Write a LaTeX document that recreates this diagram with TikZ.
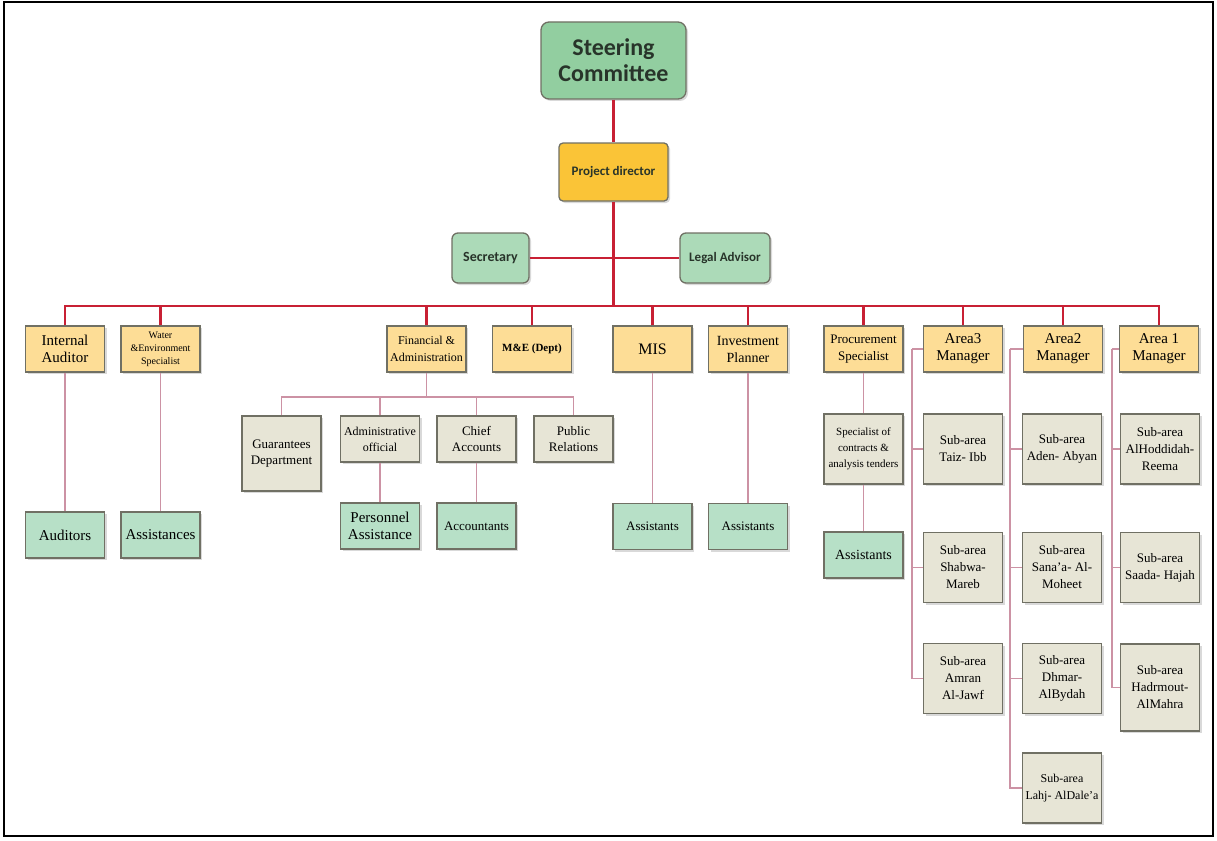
\documentclass[tikz,border=0pt]{standalone}
\usepackage{fontspec}
\setmainfont{Liberation Serif}
\newfontfamily\headfont{Carlito}
\usetikzlibrary{shadows}

\definecolor{scgreen}{RGB}{146,206,160}
\definecolor{aidegreen}{RGB}{172,218,184}
\definecolor{pdyellow}{RGB}{250,196,55}
\definecolor{unitfill}{RGB}{253,221,150}
\definecolor{subfill}{RGB}{231,229,214}
\definecolor{stafffill}{RGB}{183,224,199}
\definecolor{boxline}{RGB}{112,112,100}
\definecolor{darktext}{RGB}{40,52,42}
\definecolor{redline}{RGB}{200,32,52}
\definecolor{pinkline}{RGB}{204,146,164}
\newcommand\fsz[2]{\fontsize{#1}{#2}\selectfont}

\begin{document}
\begin{tikzpicture}[x=1pt,y=-1pt,
    box/.style={draw=boxline,line width=1.3pt,minimum width=79pt,minimum height=46pt,
      inner sep=2pt,align=center,font=\fsz{15}{17},
      drop shadow={shadow xshift=2pt,shadow yshift=-2pt,opacity=.3}},
    top/.style={box,rounded corners=8pt,fill=scgreen,minimum width=145pt,minimum height=77pt,
      text=darktext,font=\headfont\bfseries\fsz{24}{26}},
    director/.style={box,rounded corners=4pt,fill=pdyellow,minimum width=109pt,minimum height=58pt,
      text=darktext,font=\headfont\bfseries\fsz{13}{15}},
    aide/.style={box,rounded corners=6pt,fill=aidegreen,minimum width=77pt,minimum height=50pt,
      text=darktext,font=\headfont\bfseries\fsz{14}{16}},
    unit/.style={box,fill=unitfill},
    subunit/.style={box,fill=subfill,font=\fsz{13}{16}},
    staff/.style={box,fill=stafffill},
    area/.style={subunit,minimum height=70pt,font=\fsz{13}{17}},
    mainline/.style={draw=redline,line width=2.6pt},
    subline/.style={draw=pinkline,line width=1.3pt}]
  \useasboundingbox (0,0) rectangle (1217,840);
  \draw[line width=2pt] (4,2) rectangle (1213,836);

  % head
  \node[top] (SC) at (613.5,60.5) {Steering\\Committee};
  \node[director] (PD) at (613.5,172) {Project director};
  \node[aide] (Sec) at (490.5,258) {Secretary};
  \node[aide,minimum width=90pt,font=\headfont\bfseries\fsz{13}{15}] (LA) at (725,258) {Legal Advisor};

  % units
  \node[unit] (IA) at (65,349) {Internal\\Auditor};
  \node[unit,font=\fsz{10}{13}] (WE) at (160.5,349) {Water\\\&Environment\\Specialist};
  \node[unit,font=\fsz{12}{17}] (FA) at (426.5,349) {Financial \&\\Administration};
  \node[unit,font=\bfseries\fsz{11}{13}] (ME) at (532,349) {M\&E (Dept)};
  \node[unit,font=\fsz{16}{18}] (MIS) at (652.5,349) {MIS};
  \node[unit,font=\fsz{14}{17}] (IP) at (748,349) {Investment\\Planner};
  \node[unit,font=\fsz{13}{17}] (PS) at (863.5,349) {Procurement\\Specialist};
  \node[unit] (A3) at (963,349) {Area3\\Manager};
  \node[unit] (A2) at (1063,349) {Area2\\Manager};
  \node[unit] (A1) at (1159,349) {Area 1\\Manager};

  % finance
  \node[subunit,minimum height=75pt] (GD) at (281.5,453.5) {Guarantees\\Department};
  \node[subunit,font=\fsz{12}{16}] (AO) at (380,439) {Administrative\\official};
  \node[subunit] (CA) at (476.5,439) {Chief\\Accounts};
  \node[subunit] (PR) at (573.5,439) {Public\\Relations};
  \node[staff] (PA) at (380,526) {Personnel\\Assistance};
  \node[staff,font=\fsz{13}{15}] (Acc) at (476.5,526) {Accountants};

  % staff
  \node[staff] (Aud) at (65,535) {Auditors};
  \node[staff] (Ass) at (160.5,535) {Assistances};
  \node[staff,font=\fsz{13}{15}] (MISa) at (652.5,526.5) {Assistants};
  \node[staff,font=\fsz{13}{15}] (IPa) at (748,526.5) {Assistants};
  \node[subunit,minimum height=70pt,font=\fsz{11}{16}] (Spec) at (863.5,449) {Specialist of\\contracts \&\\analysis tenders};
  \node[staff,font=\fsz{14}{16}] (PSa) at (863.5,555) {Assistants};

  % areas
  \node[area] (Ta) at (963,449) {Sub-area\\Taiz- Ibb};
  \node[area] (Sh) at (963,567.5) {Sub-area\\Shabwa-\\Mareb};
  \node[area] (Am) at (963,678.5) {Sub-area\\Amran\\Al-Jawf};
  \node[area] (Ad) at (1062,449) {Sub-area\\Aden- Abyan};
  \node[area] (Sa) at (1062,567.5) {Sub-area\\Sana'a- Al-\\Moheet};
  \node[area] (Dh) at (1062,678.5) {Sub-area\\Dhmar-\\AlBydah};
  \node[area,font=\fsz{12}{17}] (La) at (1062,788) {Sub-area\\Lahj- AlDale'a};
  \node[area] (Ho) at (1160,449) {Sub-area\\AlHoddidah-\\Reema};
  \node[area] (Sd) at (1160,567.5) {Sub-area\\Saada- Hajah};
  \node[area,minimum height=87pt] (Hd) at (1160,687.5) {Sub-area\\Hadrmout-\\AlMahra};

  % main lines
  \coordinate (bus) at (613.5,306);
  \coordinate (fin) at (426.5,397);
  \draw[mainline] (SC) -- (PD) (Sec) -- (LA) (PD) -- (bus);
  \draw[mainline] (IA.north) |- (bus) -| (A1.north);
  \foreach \u in {WE,FA,ME,MIS,IP,PS,A3,A2}
    \draw[mainline] (\u.north) -- (\u.north |- bus);

  % sub lines
  \draw[subline] (IA) -- (Aud) (WE) -- (Ass) (AO) -- (PA) (CA) -- (Acc)
    (MIS) -- (MISa) (IP) -- (IPa) (PS) -- (Spec) (Spec) -- (PSa);
  \draw[subline] (FA) -- (fin) (GD.north) |- (fin) -| (PR.north)
    (AO.north) -- (AO.north |- fin) (CA.north) -- (CA.north |- fin);
  \draw[subline] (A3.west) -- ++(-11,0) coordinate (a3)
    (A2.west) -- ++(-13,0) coordinate (a2)
    (A1.west) -- ++(-7,0) coordinate (a1);
  \foreach \s in {Ta,Sh,Am} \draw[subline] (a3) |- (\s.west);
  \foreach \s in {Ad,Sa,Dh,La} \draw[subline] (a2) |- (\s.west);
  \foreach \s in {Ho,Sd,Hd} \draw[subline] (a1) |- (\s.west);
\end{tikzpicture}
\end{document}
